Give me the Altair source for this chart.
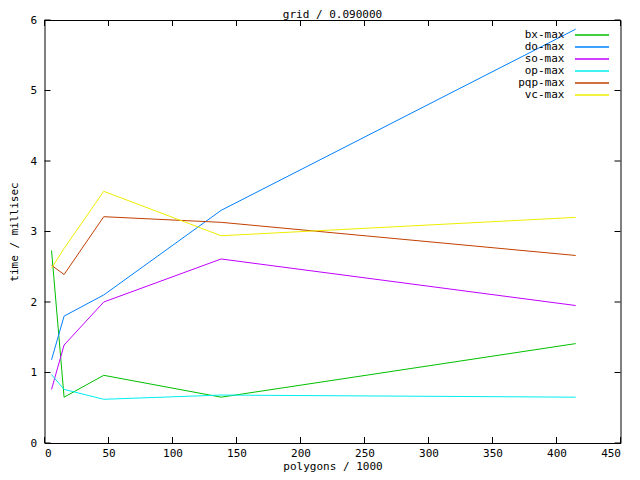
import altair as alt
import pandas as pd

# ---- data ----
x_vals = [5.5, 15.3, 46.3, 138, 415]          # polygons / 1000
series_names = ["bx-max", "do-max", "so-max", "op-max", "pqp-max", "vc-max"]
bx_max = [2.73, 0.65, 0.96, 0.65, 1.41]
do_max = [1.18, 1.80, 2.10, 3.30, 5.87]
so_max = [0.76, 1.39, 2.00, 2.61, 1.95]
op_max = [0.97, 0.76, 0.62, 0.68, 0.65]
pqp_max = [2.52, 2.39, 3.21, 3.13, 2.66]
vc_max = [2.48, 2.76, 3.57, 2.94, 3.20]
colors = ["#00c000", "#0080ff", "#c000ff", "#00eeee", "#c04000", "#eeee00"]

x_ticks = [0, 50, 100, 150, 200, 250, 300, 350, 400, 450]
y_ticks = [0, 1, 2, 3, 4, 5, 6]

FONT = "DejaVu Sans Mono"
FS = 11
W, H = 576, 423
X_MAX, Y_MAX = 450, 6
TICK_PX = 6

rows = []
for name, vals in zip(series_names, [bx_max, do_max, so_max, op_max, pqp_max, vc_max]):
    for xv, yv in zip(x_vals, vals):
        rows.append({"polygons": xv, "time": yv, "series": name})
df = pd.DataFrame(rows)

xs = alt.Scale(domain=[0, X_MAX], nice=False, zero=False)
ys = alt.Scale(domain=[0, Y_MAX], nice=False, zero=False)
x_axis = alt.Axis(values=x_ticks, title="polygons / 1000", labelPadding=4,
                  titleY=28.5, titleBaseline="bottom")
y_axis = alt.Axis(values=y_ticks, title="time / millisec", labelPadding=8, titlePadding=10)

# legend sample line drawn to the right of its (right-aligned) label
legend_path = "M5.33,0H16.67"

lines = alt.Chart(df).mark_line(strokeWidth=1).encode(
    x=alt.X("polygons:Q", scale=xs, axis=x_axis),
    y=alt.Y("time:Q", scale=ys, axis=y_axis),
    color=alt.Color("series:N",
                    scale=alt.Scale(domain=series_names, range=colors),
                    sort=series_names,
                    legend=alt.Legend(title=None, orient="none", legendX=509, legendY=9.5,
                                      symbolType=legend_path, symbolSize=36,
                                      symbolStrokeWidth=1.5,
                                      labelAlign="right", labelOffset=0,
                                      labelFont=FONT, labelFontSize=FS,
                                      labelColor="black", rowPadding=0, padding=0)),
)

# inward tick marks (gnuplot style), drawn through the same scales
tx = TICK_PX * X_MAX / W
ty = TICK_PX * Y_MAX / H
xt = pd.DataFrame({"polygons": x_ticks * 2,
                   "time": [0] * len(x_ticks) + [Y_MAX] * len(x_ticks),
                   "time2": [ty] * len(x_ticks) + [Y_MAX - ty] * len(x_ticks)})
yt = pd.DataFrame({"time": y_ticks * 2,
                   "polygons": [0] * len(y_ticks) + [X_MAX] * len(y_ticks),
                   "polygons2": [tx] * len(y_ticks) + [X_MAX - tx] * len(y_ticks)})

xtick_rules = alt.Chart(xt).mark_rule(color="black", strokeWidth=1).encode(
    x=alt.X("polygons:Q", scale=xs, axis=x_axis),
    y=alt.Y("time:Q", scale=ys, axis=y_axis),
    y2="time2:Q",
)
ytick_rules = alt.Chart(yt).mark_rule(color="black", strokeWidth=1).encode(
    y=alt.Y("time:Q", scale=ys, axis=y_axis),
    x=alt.X("polygons:Q", scale=xs, axis=x_axis),
    x2="polygons2:Q",
)

chart = alt.layer(lines, xtick_rules, ytick_rules).properties(
    width=W, height=H,
    autosize="none",
    background="white",
    padding={"left": 36.5, "top": 12, "right": 11.5, "bottom": 29},
    title=alt.TitleParams("grid / 0.090000", font=FONT, fontSize=FS, fontWeight="normal",
                          color="black", anchor="middle", frame="group", offset=-6),
).configure_view(stroke="black", strokeWidth=1).configure_axis(
    domain=False, ticks=False, grid=False,
    labelFont=FONT, labelFontSize=FS, labelColor="black",
    titleFont=FONT, titleFontSize=FS, titleFontWeight="normal", titleColor="black",
)

chart.save("out.html", embed_options={"renderer": "svg", "actions": False})
